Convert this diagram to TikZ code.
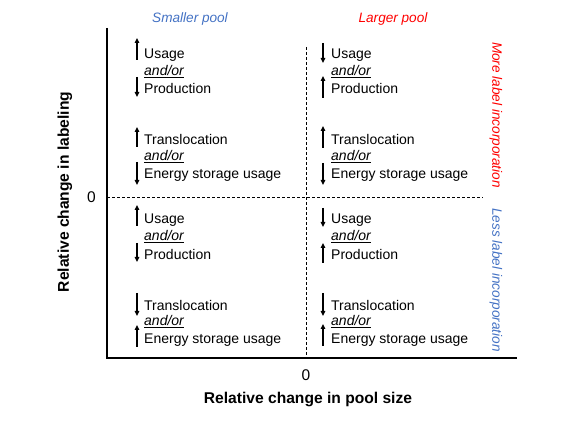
\documentclass[tikz,border=0pt]{standalone}
\usepackage{fontspec}
\setmainfont{Liberation Sans}
\usetikzlibrary{arrows.meta}
\definecolor{poolblue}{RGB}{68,114,196}

\tikzset{
	txt/.style={anchor=west, inner sep=0pt, font=\fontsize{14}{17}\selectfont},
	andor/.style={txt, font=\fontsize{14}{17}\selectfont\itshape},
	zero/.style={inner sep=0pt, font=\fontsize{15.5}{18}\selectfont},
	axlbl/.style={inner sep=0pt, font=\fontsize{15.6}{18}\selectfont\bfseries},
	side/.style={inner sep=0pt, font=\fontsize{13.6}{16}\selectfont\itshape},
	arr/.style={line width=1.3pt, -{Triangle[length=5pt,width=4.5pt]}},
	grid/.style={densely dashed, line width=0.6pt}
}

\begin{document}
\begin{tikzpicture}[x=1pt, y=-1pt]

		\useasboundingbox (0, 0) rectangle (574, 443);

		% axes
		\coordinate (ytop) at (107, 28);
		\coordinate (orig) at (107, 358);
		\coordinate (xend) at (517, 358);
		\draw[line width=2pt] (ytop) -- (orig) -- (xend);

		% zero lines
		\coordinate (vtop) at (306, 47);
		\coordinate (vbot) at (306, 358);
		\coordinate (hleft) at (107, 197);
		\coordinate (hright) at (483, 197);
		\draw[grid] (vtop) -- (vbot);
		\draw[grid] (hleft) -- (hright);

		\node[zero] (zeroy) at (91.5, 197){0};
		\node[zero] (zerox) at (306, 375){0};

		\node[axlbl] (xlabel) at (308, 400){Relative change in pool size};
		\node[axlbl, rotate=90] (ylabel) at (65, 192){Relative change in labeling};

		\node[side, poolblue] (smaller) at (190, 19){Smaller pool};
		\node[side, red] (larger) at (393, 19){Larger pool};
		\node[side, red, rotate=-90] (more) at (496, 115){More label incorporation};
		\node[side, poolblue, rotate=-90] (less) at (496, 280){Less label incorporation};

		% upper left
		\node[txt] (ulu) at (144, 55){Usage};
		\node[andor] (ula) at (144, 72){\underline{and/or}};
		\node[txt] (ulp) at (144, 89){Production};
			\draw[arr] (137, 60) to (137, 38);
			\draw[arr] (137, 77) to (137, 97);
		\node[txt] (ult) at (144, 140){Translocation};
		\node[andor] (ulb) at (144, 157){\underline{and/or}};
		\node[txt] (ule) at (144, 175){Energy storage usage};
			\draw[arr] (137, 147) to (137, 127);
			\draw[arr] (137, 162) to (137, 185);

		% upper right
		\node[txt] (uru) at (331, 55){Usage};
		\node[andor] (ura) at (331, 72){\underline{and/or}};
		\node[txt] (urp) at (331, 89){Production};
			\draw[arr] (323, 43) to (323, 63);
			\draw[arr] (323, 98) to (323, 76);
		\node[txt] (urt) at (331, 140){Translocation};
		\node[andor] (urb) at (331, 157){\underline{and/or}};
		\node[txt] (ure) at (331, 175){Energy storage usage};
			\draw[arr] (323, 148) to (323, 126);
			\draw[arr] (323, 163) to (323, 185);

		% lower left
		\node[txt] (llu) at (144, 220){Usage};
		\node[andor] (lla) at (144, 237){\underline{and/or}};
		\node[txt] (llp) at (144, 254){Production};
			\draw[arr] (137, 226) to (137, 205);
			\draw[arr] (137, 243) to (137, 262);
		\node[txt] (llt) at (144, 305){Translocation};
		\node[andor] (llb) at (144, 322){\underline{and/or}};
		\node[txt] (lle) at (144, 340){Energy storage usage};
			\draw[arr] (137, 293) to (137, 316);
			\draw[arr] (137, 347) to (137, 325);

		% lower right
		\node[txt] (lru) at (331, 220){Usage};
		\node[andor] (lra) at (331, 237){\underline{and/or}};
		\node[txt] (lrp) at (331, 254){Production};
			\draw[arr] (323, 208) to (323, 227);
			\draw[arr] (323, 263) to (323, 243);
		\node[txt] (lrt) at (331, 305){Translocation};
		\node[andor] (lrb) at (331, 322){\underline{and/or}};
		\node[txt] (lre) at (331, 340){Energy storage usage};
			\draw[arr] (323, 293) to (323, 316);
			\draw[arr] (323, 346) to (323, 324);

	\end{tikzpicture}
\end{document}
